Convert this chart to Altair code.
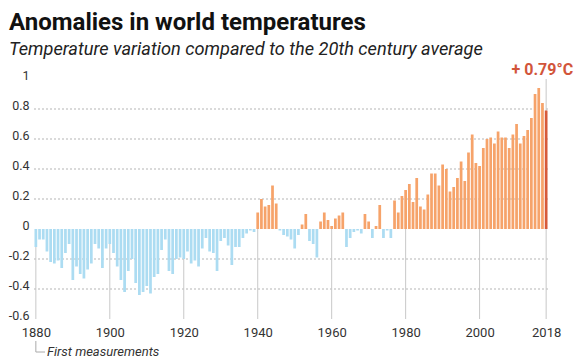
import altair as alt
import pandas as pd

years = list(range(1880, 2019))
anomalies = [
    -0.12, -0.07, -0.07, -0.15, -0.22, -0.23, -0.21, -0.26, -0.16, -0.10,  # 1880s
    -0.34, -0.25, -0.30, -0.33, -0.27, -0.23, -0.10, -0.13, -0.26, -0.13,  # 1890s
    -0.10, -0.16, -0.25, -0.34, -0.42, -0.28, -0.20, -0.36, -0.44, -0.42,  # 1900s
    -0.38, -0.43, -0.32, -0.30, -0.14, -0.07, -0.28, -0.30, -0.20, -0.19,  # 1910s
    -0.20, -0.15, -0.23, -0.21, -0.25, -0.13, -0.06, -0.15, -0.16, -0.28,  # 1920s
    -0.08, -0.06, -0.11, -0.24, -0.12, -0.12, -0.06, -0.03, -0.01, -0.02,  # 1930s
    0.11, 0.20, 0.15, 0.16, 0.29, 0.17, -0.01, -0.04, -0.05, -0.07,        # 1940s
    -0.13, -0.04, 0.03, 0.10, -0.08, -0.10, -0.19, 0.05, 0.11, 0.06,       # 1950s
    0.02, 0.07, 0.09, 0.11, -0.12, -0.06, -0.02, -0.01, -0.03, 0.10,       # 1960s
    0.05, -0.06, 0.02, 0.16, -0.06, -0.01, -0.06, 0.19, 0.11, 0.22,        # 1970s
    0.26, 0.30, 0.18, 0.34, 0.15, 0.13, 0.23, 0.37, 0.37, 0.29,            # 1980s
    0.43, 0.40, 0.25, 0.28, 0.34, 0.45, 0.32, 0.51, 0.63, 0.44,            # 1990s
    0.42, 0.54, 0.60, 0.61, 0.57, 0.65, 0.61, 0.61, 0.54, 0.63,            # 2000s
    0.70, 0.57, 0.62, 0.66, 0.74, 0.90, 0.94, 0.84, 0.79,                  # 2010s
]
grid_values = [0.8, 0.6, 0.4, 0.2, -0.2, -0.4]
decade_lines = [1880, 1900, 1920, 1940, 1960, 1980, 2000]
axis_years = [1880, 1900, 1920, 1940, 1960, 1980, 2000, 2018]
y_ticks = [-0.6, -0.4, -0.2, 0, 0.2, 0.4, 0.6, 0.8, 1]
title_text = "Anomalies in world temperatures"
subtitle_text = "Temperature variation compared to the 20th century average"
note_text = "First measurements"

W, H = 514, 240
FONT = "Roboto, sans-serif"

df = pd.DataFrame({"year": years, "anom": anomalies})
last_year = years[-1]
df["cat"] = ["last" if y == last_year else ("pos" if a >= 0 else "neg")
             for y, a in zip(years, anomalies)]

xscale = alt.Scale(domain=[1879.5, 2018.5], nice=False, zero=False)
yscale = alt.Scale(domain=[-0.6, 1.0], nice=False, zero=False)

x_axis = alt.Axis(values=axis_years, format="d", grid=False, ticks=False,
                  domain=False, labelPadding=7, labelFontSize=13,
                  labelColor="#333333", labelFont=FONT, title=None)
y_axis = alt.Axis(values=y_ticks, grid=False, ticks=False, domain=False,
                  labelPadding=5, labelFontSize=12.5, labelColor="#333333",
                  labelOffset=-4, labelFont=FONT, title=None,
                  labelExpr="replace(format(datum.value, '.1~f'), '\u2212', '-')")

grid = alt.Chart(pd.DataFrame({"v": grid_values})).mark_rule(
    color="#b5b5b5", strokeDash=[2, 2], strokeWidth=1
).encode(
    y=alt.Y("v:Q", scale=yscale, axis=y_axis),
    x=alt.value(0), x2=alt.value(W),
)

vlines = alt.Chart(pd.DataFrame({"yr": decade_lines})).mark_rule(
    color="#c8c8c8", strokeWidth=1
).encode(
    x=alt.X("yr:Q", scale=xscale, axis=x_axis),
    y=alt.datum(0, scale=yscale, axis=y_axis), y2=alt.datum(-0.6),
)

last_line = alt.Chart(pd.DataFrame({"yr": [last_year]})).mark_rule(
    color="#c8c8c8", strokeWidth=1
).encode(
    x=alt.X("yr:Q", scale=xscale, axis=x_axis),
    y=alt.datum(1.0, scale=yscale, axis=y_axis), y2=alt.datum(-0.6),
)

bars = alt.Chart(df).transform_calculate(
    x1="datum.year - 0.37", x2="datum.year + 0.37"
).mark_bar().encode(
    x=alt.X("x1:Q", scale=xscale, axis=x_axis),
    x2="x2:Q",
    y=alt.Y("anom:Q", scale=yscale, axis=y_axis),
    y2=alt.datum(0),
    color=alt.Color("cat:N", legend=None,
                    scale=alt.Scale(domain=["neg", "pos", "last"],
                                    range=["#acdcf2", "#f6a36a", "#d65a3a"])),
)

label_df = pd.DataFrame({"yr": [last_year], "t": [f"+ {anomalies[-1]:.2f}\u00b0C"]})
last_label = alt.Chart(label_df).mark_text(
    align="right", baseline="alphabetic", fontSize=16, fontWeight="bold",
    color="#d2553a", font=FONT, dx=27, dy=-4
).encode(
    x=alt.X("yr:Q", scale=xscale, axis=x_axis),
    y=alt.datum(1.0, scale=yscale, axis=y_axis),
    text="t:N",
)

title = alt.Chart(pd.DataFrame({"t": [title_text]})).mark_text(
    align="left", baseline="alphabetic", fontSize=24, fontWeight="bold",
    color="#111111", font=FONT
).encode(x=alt.value(-25), y=alt.value(-49), text="t:N")

subtitle = alt.Chart(pd.DataFrame({"t": [subtitle_text]})).mark_text(
    align="left", baseline="alphabetic", fontSize=18.2, fontStyle="italic",
    color="#222222", font=FONT
).encode(x=alt.value(-25), y=alt.value(-24), text="t:N")

note = alt.Chart(pd.DataFrame({"t": [note_text]})).mark_text(
    align="left", baseline="alphabetic", fontSize=13, fontStyle="italic",
    color="#333333", font=FONT
).encode(x=alt.value(13), y=alt.value(277), text="t:N")

conn_v = alt.Chart(pd.DataFrame({"yr": [years[0]]})).mark_rule(
    color="#aaaaaa", strokeWidth=1
).encode(x=alt.X("yr:Q", scale=xscale, axis=x_axis), y=alt.value(262), y2=alt.value(273))

conn_h = alt.Chart(pd.DataFrame({"yr": [years[0]]})).mark_rule(
    color="#aaaaaa", strokeWidth=1
).encode(x=alt.X("yr:Q", scale=xscale, axis=x_axis), x2=alt.value(11), y=alt.value(273))

chart = alt.layer(
    grid, vlines, last_line, bars, last_label, title, subtitle, note, conn_v, conn_h
).properties(
    width=W, height=H,
    autosize=alt.AutoSizeParams(type="none"),
    padding={"left": 26, "top": 71, "right": 26, "bottom": 41},
    background="white",
).configure_view(stroke=None)

chart.save("out.html", embed_options={"renderer": "svg", "actions": False})
